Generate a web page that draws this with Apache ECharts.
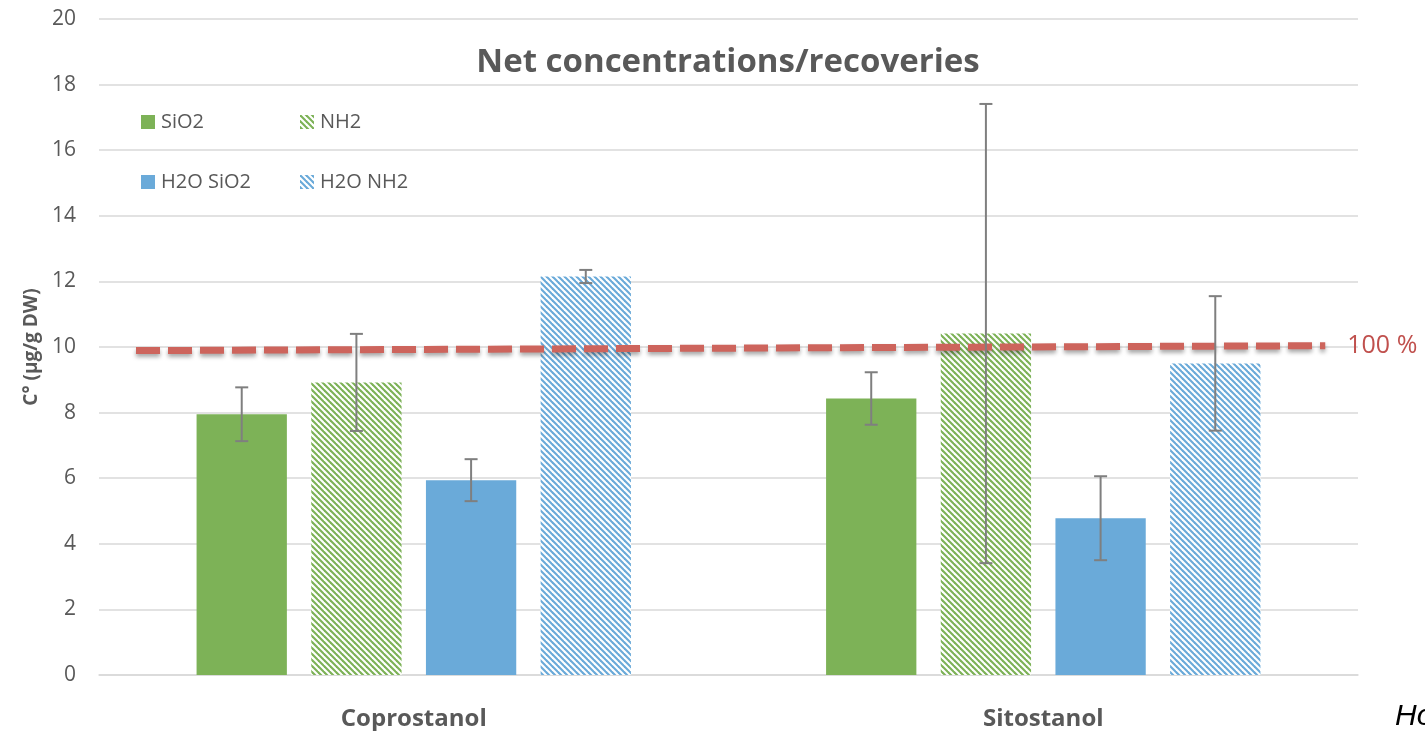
<!DOCTYPE html>
<html>
<head>
<meta charset="utf-8">
<script src="https://cdn.jsdelivr.net/npm/echarts@6/dist/echarts.min.js"></script>
<style>
html,body{margin:0;padding:0;background:#fff;}
#chart{width:1425px;height:731px;}
</style>
</head>
<body>
<div id="chart"></div>
<script>
// ---- data ----
const categories = ['Coprostanol', 'Sitostanol'];
const seriesNames = ['SiO2', 'NH2', 'H2O SiO2', 'H2O NH2'];
const sio2 = [7.95, 8.43];
const nh2 = [8.92, 10.41];
const h2oSio2 = [5.94, 4.78];
const h2oNh2 = [12.15, 9.5];
const sio2Err = [0.82, 0.8];
const nh2Err = [1.48, 7.0];
const h2oSio2Err = [0.64, 1.28];
const h2oNh2Err = [0.2, 2.05];
const refLine = [[0.0294, 9.89], [0.974, 10.04]];
const refLabel = '100 %';
const yTicks = {min: 0, max: 20, interval: 2};

// ---- styles ----
const GREEN = '#7db257';
const BLUE = '#6aaad9';
function hatch(color) {
  const s = 6;
  const c = document.createElement('canvas');
  c.width = s; c.height = s;
  const ctx = c.getContext('2d');
  ctx.fillStyle = '#ffffff';
  ctx.fillRect(0, 0, s, s);
  ctx.strokeStyle = color;
  ctx.lineWidth = 2.1;
  for (let k = -s; k <= s; k += s) {
    ctx.beginPath();
    ctx.moveTo(k - 1, -1);
    ctx.lineTo(k + s + 1, s + 1);
    ctx.stroke();
  }
  return {image: c, repeat: 'repeat'};
}
const fills = [GREEN, hatch(GREEN), BLUE, hatch(BLUE)];
const values = [sio2, nh2, h2oSio2, h2oNh2];
const errs = [sio2Err, nh2Err, h2oSio2Err, h2oNh2Err];

const CAT_GAP = 0.31, BAR_GAP = 0.27;
const errData = [];
values.forEach((arr, s) => arr.forEach((v, c) => errData.push([c, s, v - errs[s][c], v + errs[s][c]])));

const chart = echarts.init(document.getElementById('chart'));
const FONT = '"Open Sans", sans-serif';
const TXT = '#595959';

function legendAt(name, left, top) {
  return {
    data: [name], left: left, top: top, itemWidth: 14, itemHeight: 14, icon: 'rect',
    textStyle: {fontFamily: FONT, fontSize: 20, color: TXT, padding: [0, 0, 0, 1]},
    selectedMode: false
  };
}

const option = {
  animation: false,
  title: {
    text: 'Net concentrations/recoveries',
    left: 723, top: 41, textAlign: 'center',
    textStyle: {fontFamily: FONT, fontSize: 33, fontWeight: 'bold', color: TXT}
  },
  legend: [
    legendAt('SiO2', 136, 107),
    legendAt('NH2', 295, 107),
    legendAt('H2O SiO2', 136, 167),
    legendAt('H2O NH2', 295, 167)
  ],
  grid: {left: 99, right: 67, top: 19, bottom: 56, containLabel: false},
  xAxis: [{
    type: 'category', data: categories,
    axisLine: {show: true, lineStyle: {color: '#d9d9d9', width: 1.5}},
    axisTick: {show: false},
    axisLabel: {fontFamily: FONT, fontSize: 24, fontWeight: 'bold', color: TXT, margin: 32},
    splitLine: {show: false}
  }, {
    type: 'value', min: 0, max: 1, show: false
  }],
  yAxis: {
    type: 'value', min: yTicks.min, max: yTicks.max, interval: yTicks.interval,
    name: 'C° (µg/g DW)', nameLocation: 'middle', nameGap: 56,
    nameTextStyle: {fontFamily: FONT, fontSize: 19, fontWeight: 'bold', color: TXT},
    axisLine: {show: false}, axisTick: {show: false},
    axisLabel: {fontFamily: FONT, fontSize: 21, color: TXT, margin: 23},
    splitLine: {lineStyle: {color: '#d9d9d9', width: 1.5}}
  },
  series: [
    ...seriesNames.map((n, i) => ({
      name: n, type: 'bar', data: values[i],
      barCategoryGap: (CAT_GAP * 100) + '%', barGap: (BAR_GAP * 100) + '%',
      itemStyle: {color: fills[i]}, z: 2
    })),
    {
      type: 'line', xAxisIndex: 1, data: refLine, symbol: 'none', z: 4,
      lineStyle: {color: '#cd645c', width: 7, type: [24, 8], cap: 'butt',
        shadowColor: 'rgba(0,0,0,0.35)', shadowBlur: 4, shadowOffsetY: 3},
      silent: true
    },
    {
      type: 'scatter', xAxisIndex: 1, data: [refLine[refLine.length - 1]], symbolSize: 0, z: 4,
      silent: true, clip: false, itemStyle: {opacity: 1},
      label: {show: true, position: 'right', formatter: refLabel, color: '#c0504d', opacity: 1,
        fontFamily: FONT, fontSize: 25, distance: 22, overflow: 'none'},
      labelLayout: {hideOverlap: false, moveOverlap: false}
    },
    {
      type: 'custom', z: 5, data: errData,
      renderItem: function (params, api) {
        const c = api.value(0), s = api.value(1), lo = api.value(2), hi = api.value(3);
        const band = api.size([1, 0])[0];
        const n = 4;
        const w = band * (1 - CAT_GAP) / (n + (n - 1) * BAR_GAP);
        const total = w * n + w * BAR_GAP * (n - 1);
        const x = api.coord([c, 0])[0] - total / 2 + s * w * (1 + BAR_GAP) + w / 2;
        const yh = api.coord([c, hi])[1], yl = api.coord([c, lo])[1];
        const st = {stroke: '#7f7f7f', lineWidth: 2};
        const cap = 6.5;
        return {type: 'group', children: [
          {type: 'line', shape: {x1: x, y1: yh, x2: x, y2: yl}, style: st},
          {type: 'line', shape: {x1: x - cap, y1: yh, x2: x + cap, y2: yh}, style: st},
          {type: 'line', shape: {x1: x - cap, y1: yl, x2: x + cap, y2: yl}, style: st}
        ]};
      }
    }
  ],
  graphic: [{
    type: 'text', left: 1395, top: 702,
    style: {text: 'Ho', fontFamily: '"Liberation Sans", Arial, sans-serif', fontSize: 30, fontStyle: 'italic', fill: '#000'}
  }]
};
chart.setOption(option);
</script>
</body>
</html>
